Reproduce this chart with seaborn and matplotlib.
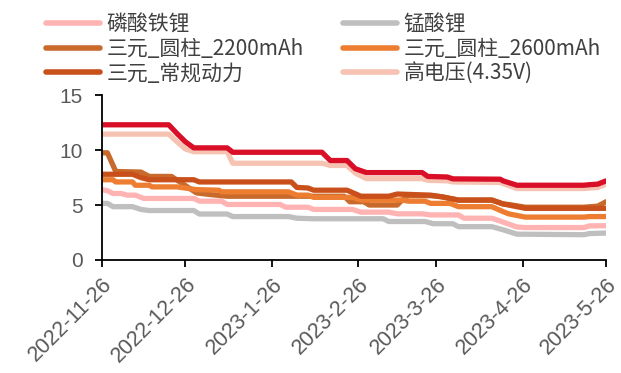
import matplotlib
matplotlib.use("Agg")
import matplotlib.pyplot as plt
import pandas as pd
import seaborn as sns

# ---- price series (breakpoints of each step curve) ----
lfp_dates = ["2022-11-26", "2022-11-28", "2022-11-30", "2022-12-03", "2022-12-05", "2022-12-08",
             "2022-12-11", "2022-12-29", "2022-12-31", "2023-01-08", "2023-01-10", "2023-01-29",
             "2023-01-31", "2023-02-08", "2023-02-10", "2023-02-24", "2023-02-27", "2023-03-09",
             "2023-03-12", "2023-03-21", "2023-03-24", "2023-04-03", "2023-04-05", "2023-04-15",
             "2023-04-19", "2023-04-24", "2023-04-27", "2023-05-18", "2023-05-20", "2023-05-26"]
lfp_price = [6.4, 6.3, 6.05, 6.05, 5.9, 5.9, 5.6, 5.6, 5.35, 5.35, 5.05, 5.05, 4.8, 4.8, 4.6,
             4.6, 4.35, 4.35, 4.2, 4.2, 4.1, 4.1, 3.8, 3.8, 3.45, 3.0, 2.95, 2.95, 3.1, 3.12]

lmo_dates = ["2022-11-26", "2022-11-28", "2022-11-30", "2022-12-07", "2022-12-10", "2022-12-13",
             "2022-12-29", "2022-12-31", "2023-01-10", "2023-01-12", "2023-02-01", "2023-02-04",
             "2023-02-10", "2023-03-07", "2023-03-09", "2023-03-22", "2023-03-25", "2023-04-01",
             "2023-04-03", "2023-04-15", "2023-04-19", "2023-04-24", "2023-05-18", "2023-05-20",
             "2023-05-26"]
lmo_price = [5.15, 5.15, 4.85, 4.85, 4.6, 4.5, 4.5, 4.18, 4.18, 3.95, 3.95, 3.8, 3.75, 3.75,
             3.5, 3.5, 3.3, 3.3, 3.03, 3.03, 2.75, 2.35, 2.3, 2.4, 2.45]

c2200_dates = ["2022-11-26", "2022-11-28", "2022-12-01", "2022-12-10", "2022-12-13", "2022-12-21",
               "2022-12-30", "2023-01-04", "2023-01-10", "2023-02-21", "2023-02-23", "2023-02-28",
               "2023-03-02", "2023-03-12", "2023-03-14", "2023-03-16", "2023-03-24", "2023-03-28",
               "2023-04-03", "2023-04-15", "2023-04-19", "2023-04-21", "2023-04-27", "2023-05-18",
               "2023-05-23", "2023-05-26"]
c2200_price = [9.75, 9.75, 8.05, 8.0, 7.6, 7.6, 6.1, 5.95, 5.8, 5.8, 5.3, 5.3, 5.0, 5.0, 5.5,
               5.85, 5.85, 5.75, 5.45, 5.45, 5.1, 5.05, 4.8, 4.8, 4.9, 5.3]

c2600_dates = ["2022-11-26", "2022-11-30", "2022-12-01", "2022-12-07", "2022-12-08", "2022-12-13",
               "2022-12-14", "2022-12-23", "2022-12-30", "2023-01-07", "2023-01-08", "2023-02-01",
               "2023-02-04", "2023-02-08", "2023-02-10", "2023-02-24", "2023-02-27", "2023-03-14",
               "2023-03-16", "2023-03-22", "2023-03-24", "2023-03-31", "2023-04-03", "2023-04-15",
               "2023-04-19", "2023-04-21", "2023-04-27", "2023-05-18", "2023-05-20", "2023-05-26"]
c2600_price = [7.3, 7.3, 7.1, 7.1, 6.8, 6.8, 6.65, 6.65, 6.4, 6.35, 6.2, 6.2, 5.9, 5.9, 5.7,
               5.7, 5.45, 5.45, 5.35, 5.35, 5.15, 5.15, 4.85, 4.85, 4.4, 4.2, 3.9, 3.9, 3.95, 3.95]

power_dates = ["2022-11-26", "2022-12-07", "2022-12-10", "2022-12-13", "2022-12-29", "2022-12-31",
               "2023-02-02", "2023-02-04", "2023-02-08", "2023-02-10", "2023-02-22", "2023-02-27",
               "2023-03-09", "2023-03-12", "2023-03-24", "2023-03-28", "2023-04-03", "2023-04-15",
               "2023-04-19", "2023-04-21", "2023-04-27", "2023-05-26"]
power_price = [7.8, 7.8, 7.5, 7.3, 7.3, 7.1, 7.1, 6.6, 6.55, 6.35, 6.35, 5.8, 5.8, 6.0, 5.9,
               5.75, 5.45, 5.45, 5.1, 5.0, 4.7, 4.7]

hv_dates = ["2022-11-26", "2022-12-20", "2022-12-23", "2022-12-26", "2022-12-29", "2023-01-10",
            "2023-01-12", "2023-02-13", "2023-02-16", "2023-02-22", "2023-02-25", "2023-03-01",
            "2023-03-21", "2023-03-23", "2023-03-30", "2023-04-01", "2023-04-18", "2023-04-19",
            "2023-04-24", "2023-05-18", "2023-05-23", "2023-05-26"]
hv_price = [11.45, 11.45, 10.75, 10.1, 9.85, 9.85, 8.8, 8.8, 8.6, 8.6, 7.9, 7.4, 7.4, 7.25,
            7.2, 7.1, 7.05, 6.95, 6.5, 6.5, 6.6, 6.9]

top_dates = ["2022-11-26", "2022-12-20", "2022-12-23", "2022-12-26", "2022-12-29", "2023-01-10",
             "2023-01-12", "2023-02-13", "2023-02-16", "2023-02-22", "2023-02-25", "2023-03-01",
             "2023-03-21", "2023-03-23", "2023-03-30", "2023-04-01", "2023-04-18", "2023-04-19",
             "2023-04-24", "2023-05-18", "2023-05-20", "2023-05-23", "2023-05-26"]
top_price = [12.3, 12.3, 11.5, 10.75, 10.2, 10.2, 9.8, 9.8, 9.05, 9.05, 8.3, 7.95, 7.95, 7.6,
             7.55, 7.38, 7.35, 7.2, 6.8, 6.8, 6.85, 6.9, 7.2]

series_names = ["磷酸铁锂", "锰酸锂", "三元_圆柱_2200mAh", "三元_圆柱_2600mAh",
                "三元_常规动力", "高电压(4.35V)"]
series_colors = ["#FFB3B3", "#BFBFBF", "#C86A2C", "#ED7D31", "#C9501A", "#F6C3B2"]

tick_dates = ["2022-11-26", "2022-12-26", "2023-01-26", "2023-02-26",
              "2023-03-26", "2023-04-26", "2023-05-26"]
y_ticks = [0, 5, 10, 15]

# ---- style ----
sns.set_theme(style="white")
plt.rcParams["font.family"] = ["Liberation Sans", "Noto Sans CJK SC", "DejaVu Sans"]

fig = plt.figure(figsize=(6.21, 3.73), dpi=100)
ax = fig.add_axes([0.164, 0.303, 0.812, 0.442])

line_kw = dict(linewidth=3.8, solid_capstyle="round", solid_joinstyle="round")

all_dates = [lfp_dates, lmo_dates, c2200_dates, c2600_dates, power_dates, hv_dates]
all_prices = [lfp_price, lmo_price, c2200_price, c2600_price, power_price, hv_price]
for name, color, d, p in zip(series_names, series_colors, all_dates, all_prices):
    df = pd.DataFrame({"date": pd.to_datetime(d), "price": p})
    sns.lineplot(data=df, x="date", y="price", color=color, label=name, ax=ax, **line_kw)

top_df = pd.DataFrame({"date": pd.to_datetime(top_dates), "price": top_price})
sns.lineplot(data=top_df, x="date", y="price", color="#D90E27", legend=False, ax=ax, **line_kw)

# ---- axes ----
ticks = pd.to_datetime(tick_dates)
ax.set_xlim(ticks[0], ticks[-1])
ax.set_ylim(0, 15)
ax.set_yticks(y_ticks)
ax.set_xticks(ticks)
ax.set_xticklabels([f"{t.year}-{t.month}-{t.day}" for t in ticks],
                   rotation=45, ha="right", rotation_mode="anchor")
ax.set_xlabel("")
ax.set_ylabel("")
for side in ["top", "right"]:
    ax.spines[side].set_visible(False)
for side in ["left", "bottom"]:
    ax.spines[side].set_color("black")
    ax.spines[side].set_linewidth(1.3)
ax.tick_params(axis="both", which="major", direction="out", length=5, width=1.3,
               color="black", labelcolor="#595959", labelsize=15,
               bottom=True, left=True)
ax.tick_params(axis="x", pad=5, labelsize=15.5)
ax.tick_params(axis="y", pad=9)

# ---- legend (two columns, filled row by row) ----
handles, labels = ax.get_legend_handles_labels()
ax.get_legend().remove()
order = [0, 2, 4, 1, 3, 5]
leg = fig.legend([handles[i] for i in order], [labels[i] for i in order],
                 loc="upper left", bbox_to_anchor=(0.052, 1.0),
                 ncol=2, frameon=False, handlelength=2.6,
                 handletextpad=0.3, columnspacing=1.9, labelspacing=0.12,
                 borderpad=0.15,
                 prop={"family": ["Noto Sans CJK SC", "DejaVu Sans"], "size": 15,
                       "weight": "medium"})
for t in leg.get_texts():
    t.set_color("#404040")
for h in leg.get_lines():
    h.set_linewidth(4.0)

fig.savefig("out.png", dpi=100)
